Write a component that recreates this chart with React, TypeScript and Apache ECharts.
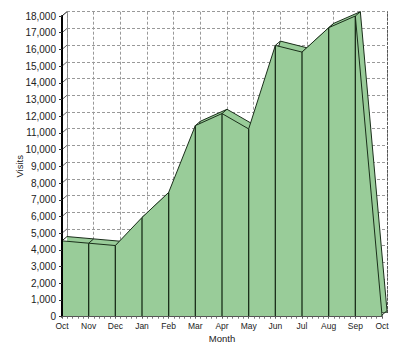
import React, { useEffect, useRef } from "react";
import * as echarts from "echarts";

const months = ["Oct", "Nov", "Dec", "Jan", "Feb", "Mar", "Apr", "May", "Jun", "Jul", "Aug", "Sep", "Oct"];
const visits = [4540, 4400, 4260, 5940, 7440, 11440, 12160, 11240, 16240, 15840, 17300, 18000, 100];
const yTicks = [0, 1000, 2000, 3000, 4000, 5000, 6000, 7000, 8000, 9000, 10000, 11000, 12000, 13000, 14000, 15000, 16000, 17000, 18000];

const DX = 5;
const DY = -4.3;
const FILL = "#99CC99";
const EDGE = "#1a2e1a";

function fmt(v: number): string {
  return String(v).replace(/\B(?=(\d{3})+(?!\d))/g, ",");
}

export default function App() {
  const ref = useRef<HTMLDivElement>(null);
  useEffect(() => {
    if (!ref.current) return;
    document.body.style.margin = "0";
    const chart = echarts.init(ref.current, undefined, { renderer: "svg" });
    const pts = visits.map((v, i) => [i, v]);
    const font = "Arial, 'Liberation Sans', sans-serif";
    chart.setOption({
      animation: false,
      backgroundColor: "#ffffff",
      grid: [
        { left: 67, top: 11.7, right: 13, bottom: 43.6 },
        { left: 62, top: 16, right: 18, bottom: 39.3 },
      ],
      xAxis: [
        {
          type: "value", gridIndex: 0, min: 0, max: 12, interval: 1, position: "top",
          axisLine: { show: true, lineStyle: { color: "#111", width: 1 } },
          axisTick: { show: false }, axisLabel: { show: false },
          splitLine: { show: true, lineStyle: { color: "#999", type: [3, 2], width: 1 } },
        },
        {
          type: "value", gridIndex: 1, min: 0, max: 12, interval: 1, position: "bottom", z: 10,
          axisLine: { show: true, onZero: false, lineStyle: { color: "#555", width: 1 } },
          axisTick: { show: true, length: 2, lineStyle: { color: "#555" } },
          minorTick: { show: true, splitNumber: 5, length: 2, lineStyle: { color: "#777" } },
          splitLine: { show: false },
          axisLabel: {
            margin: 5, fontSize: 8.5, color: "#222", fontFamily: font,
            formatter: (v: number) => months[v] ?? "",
          },
          name: "Month", nameLocation: "middle", nameGap: 17, nameMoveOverlap: false,
          nameTextStyle: { fontSize: 9.5, color: "#222", fontFamily: font },
        },
      ],
      yAxis: [
        {
          type: "value", gridIndex: 0, min: 0, max: 18000, interval: 1000, position: "left",
          axisLine: { show: true, lineStyle: { color: "#888", type: [3, 2], width: 1 } },
          axisTick: { show: false }, axisLabel: { show: false },
          splitLine: { show: true, lineStyle: { color: "#999", type: [3, 2], width: 1 } },
        },
        {
          type: "value", gridIndex: 0, min: 0, max: 18000, interval: 1000, position: "right",
          axisLine: { show: true, lineStyle: { color: "#555", type: [2, 2], width: 1 } },
          axisTick: { show: false }, axisLabel: { show: false }, splitLine: { show: false },
        },
        {
          type: "value", gridIndex: 1, min: 0, max: 18000, interval: 1000, position: "left", z: 10,
          axisLine: { show: true, lineStyle: { color: "#000", width: 2 } },
          axisTick: { show: true, length: 3, lineStyle: { color: "#333" } },
          splitLine: { show: false },
          axisLabel: { margin: 6, fontSize: 10, color: "#222", fontFamily: font, formatter: (v: number) => fmt(v) },
          name: "Visits", nameLocation: "middle", nameGap: 38, nameRotate: 90, nameMoveOverlap: false,
          nameTextStyle: { fontSize: 9.5, color: "#222", fontFamily: font },
        },
      ],
      series: [
        {
          type: "line", xAxisIndex: 0, yAxisIndex: 0, data: pts, z: 1,
          symbol: "none", lineStyle: { color: EDGE, width: 1 },
          areaStyle: { color: FILL, opacity: 1 },
        },
        {
          type: "custom", xAxisIndex: 1, yAxisIndex: 2, data: pts, z: 2, clip: false,
          encode: { x: 0, y: 1 },
          renderItem: (params: any, api: any) => {
            const p = api.coord([api.value(0), api.value(1)]);
            return {
              type: "line",
              shape: { x1: p[0], y1: p[1], x2: p[0] + DX, y2: p[1] + DY },
              style: { stroke: EDGE, lineWidth: 1 },
            };
          },
        },
        {
          type: "custom", xAxisIndex: 1, yAxisIndex: 2, z: 2, clip: false,
          data: yTicks.map((t) => [0, t]),
          encode: { x: 0, y: 1 },
          renderItem: (params: any, api: any) => {
            const p = api.coord([api.value(0), api.value(1)]);
            return {
              type: "line",
              shape: { x1: p[0], y1: p[1], x2: p[0] + DX, y2: p[1] + DY },
              style: { stroke: api.value(1) === 18000 ? "#111" : "#666", lineWidth: 1 },
            };
          },
        },
        {
          type: "line", xAxisIndex: 1, yAxisIndex: 2, data: pts, z: 3,
          symbol: "none", lineStyle: { color: EDGE, width: 1 },
          areaStyle: { color: FILL, opacity: 1 },
        },
        {
          type: "custom", xAxisIndex: 1, yAxisIndex: 2, data: pts, z: 4, clip: false,
          encode: { x: 0, y: 1 },
          renderItem: (params: any, api: any) => {
            const p = api.coord([api.value(0), api.value(1)]);
            const b = api.coord([api.value(0), 0]);
            return {
              type: "line",
              shape: { x1: p[0], y1: p[1], x2: b[0], y2: b[1] },
              style: { stroke: EDGE, lineWidth: 1.3 },
            };
          },
        },
      ],
    });
    return () => chart.dispose();
  }, []);
  return <div ref={ref} style={{ width: 400, height: 356 }} />;
}
